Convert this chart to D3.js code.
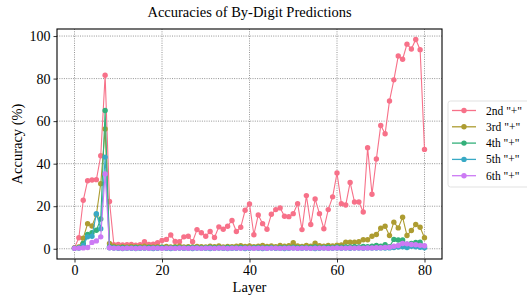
<!DOCTYPE html>
<html>
<head>
<meta charset="utf-8">
<script src="https://cdn.jsdelivr.net/npm/d3@7/dist/d3.min.js"></script>
<style>
  body { margin: 0; background: #fff; }
  svg { font-family: "Liberation Serif", "Times New Roman", serif; }
</style>
</head>
<body>
<svg id="chart" width="527" height="298"></svg>
<script>
const layers = d3.range(0, 81)

const seriesNames = ['2nd "+"', '3rd "+"', '4th "+"', '5th "+"', '6th "+"']
const seriesColors = ['#f77189', '#ad9c31', '#33b07a', '#38a9c5', '#cc7af4']

const second = [0.5, 5.2, 22.8, 32.0, 32.3, 32.5, 43.7, 81.6, 22.2, 1.9,
  2.0, 1.8, 1.9, 2.0, 1.7, 1.9, 3.3, 2.0, 2.2, 2.8,
  3.9, 4.4, 6.5, 3.4, 3.3, 5.6, 5.9, 3.3, 9.0, 7.5,
  5.9, 8.1, 5.3, 10.3, 9.2, 10.6, 13.3, 8.1, 10.1, 18.1,
  21.1, 6.6, 15.9, 11.8, 9.2, 16.2, 18.4, 19.2, 15.3, 15.1,
  16.5, 21.2, 9.0, 25.0, 11.4, 23.4, 16.5, 9.4, 18.4, 24.4,
  35.6, 21.2, 20.6, 31.2, 22.0, 22.0, 17.3, 47.5, 25.6, 42.2,
  58.0, 54.1, 69.5, 79.4, 90.6, 89.1, 96.2, 93.9, 98.4, 93.6,
  46.7]

const third = [0.3, 0.8, 5.0, 11.8, 10.7, 16.0, 30.6, 56.3, 2.5, 1.2,
  0.8, 1.0, 0.9, 1.1, 0.8, 1.0, 1.2, 0.9, 0.8, 1.0,
  0.9, 1.1, 0.8, 1.0, 1.2, 0.9, 1.0, 0.8, 1.1, 1.0,
  0.9, 1.2, 1.0, 1.3, 0.9, 1.1, 1.0, 1.2, 1.4, 1.1,
  1.3, 1.0, 1.2, 1.5, 1.1, 1.3, 1.0, 1.6, 1.2, 1.4,
  2.8, 1.3, 1.1, 1.5, 1.2, 2.6, 1.4, 1.2, 1.6, 1.3,
  1.7, 1.8, 3.1, 3.1, 3.1, 3.3, 4.2, 4.2, 5.9, 6.7,
  9.7, 10.6, 6.2, 12.5, 9.8, 14.8, 6.2, 8.6, 11.4, 10.1,
  5.2]

const fourth = [0.3, 0.5, 2.5, 6.7, 7.5, 8.7, 14.0, 65.0, 1.0, 0.6,
  0.5, 0.6, 0.4, 0.5, 0.6, 0.5, 0.4, 0.6, 0.5, 0.5,
  0.6, 0.4, 0.5, 0.6, 0.5, 0.4, 0.5, 0.6, 0.5, 0.4,
  0.5, 0.6, 0.5, 0.5, 0.4, 0.6, 0.5, 0.5, 0.6, 0.5,
  0.4, 0.5, 0.6, 0.5, 0.5, 0.6, 0.4, 0.5, 0.6, 0.5,
  0.7, 0.5, 0.6, 0.5, 0.6, 0.8, 0.5, 0.6, 0.7, 0.6,
  0.8, 0.7, 0.9, 0.8, 1.0, 0.9, 1.1, 1.0, 1.2, 1.5,
  1.2, 1.9, 1.0, 4.4, 4.1, 4.1, 2.2, 2.5, 3.0, 3.1,
  1.0]

const fifth = [0.2, 0.3, 1.5, 5.6, 5.9, 16.5, 9.4, 43.1, 0.5, 0.3,
  0.2, 0.1, 0.3, 0.2, 0.1, 0.2, 0.3, 0.2, 0.1, 0.2,
  0.3, 0.2, 0.1, 0.2, 0.3, 0.2, 0.2, 0.1, 0.3, 0.2,
  0.2, 0.1, 0.2, 0.3, 0.2, 0.1, 0.2, 0.2, 0.3, 0.1,
  0.2, 0.3, 0.2, 0.1, 0.2, 0.3, 0.2, 0.2, 0.1, 0.2,
  0.3, 0.2, 0.2, 0.3, 0.2, 0.1, 0.2, 0.3, 0.2, 0.2,
  0.3, 0.2, 0.3, 0.2, 0.3, 0.3, 0.2, 0.4, 0.3, 0.3,
  0.4, 0.3, 0.4, 0.6, 0.8, 0.9, 0.6, 1.2, 0.9, 0.7,
  0.5]

const sixth = [0.2, 0.3, 0.4, 0.6, 3.0, 3.7, 5.6, 35.2, 0.5, 0.3,
  0.3, 0.2, 0.3, 0.3, 0.2, 0.3, 0.3, 0.2, 0.3, 0.3,
  0.2, 0.3, 0.3, 0.2, 0.3, 0.3, 0.2, 0.3, 0.3, 0.2,
  0.3, 0.3, 0.2, 0.3, 0.3, 0.2, 0.3, 0.3, 0.2, 0.3,
  0.3, 0.2, 0.3, 0.3, 0.2, 0.3, 0.3, 0.2, 0.3, 0.3,
  0.3, 0.2, 0.3, 0.3, 0.2, 0.3, 0.3, 0.3, 0.2, 0.3,
  0.4, 0.3, 0.3, 0.4, 0.3, 0.4, 0.3, 0.4, 0.4, 0.5,
  0.5, 0.6, 0.7, 1.2, 1.5, 2.5, 2.3, 2.0, 1.9, 1.6,
  1.4]

const seriesValues = [second, third, fourth, fifth, sixth]
const xTicks = [0, 20, 40, 60, 80]
const yTicks = [0, 20, 40, 60, 80, 100]

const svg = d3.select('#chart')
const margin = {left: 57, right: 85, top: 29, bottom: 39}
const width = 527, height = 298
const plotW = width - margin.left - margin.right
const plotH = height - margin.top - margin.bottom

// matplotlib-like 5% margins around the data
const xExt = d3.extent(layers)
const xPad = (xExt[1] - xExt[0]) * 0.05
const allVals = seriesValues.flat()
const yExt = d3.extent(allVals)
const yPad = (yExt[1] - yExt[0]) * 0.05

const x = d3.scaleLinear().domain([xExt[0] - xPad, xExt[1] + xPad]).range([margin.left, margin.left + plotW])
const y = d3.scaleLinear().domain([yExt[0] - yPad, yExt[1] + yPad]).range([margin.top + plotH, margin.top])

// grid
const grid = svg.append('g').attr('class', 'grid')
grid.selectAll('line.gx').data(xTicks).join('line')
  .attr('x1', d => x(d)).attr('x2', d => x(d))
  .attr('y1', margin.top).attr('y2', margin.top + plotH)
grid.selectAll('line.gy').data(yTicks).join('line')
  .attr('x1', margin.left).attr('x2', margin.left + plotW)
  .attr('y1', d => y(d)).attr('y2', d => y(d))
grid.selectAll('line')
  .attr('stroke', '#7a7a7a').attr('stroke-width', 0.8).attr('stroke-dasharray', '1,1.3')

// series
const line = d3.line().x((d, i) => x(layers[i])).y(d => y(d))
const seriesG = svg.append('g').attr('class', 'series')
seriesValues.forEach((vals, k) => {
  const g = seriesG.append('g')
  g.append('path').datum(vals)
    .attr('d', line)
    .attr('fill', 'none')
    .attr('stroke', seriesColors[k])
    .attr('stroke-width', 1.1)
  g.selectAll('circle').data(vals).join('circle')
    .attr('cx', (d, i) => x(layers[i]))
    .attr('cy', d => y(d))
    .attr('r', 2.7)
    .attr('fill', seriesColors[k])
})

// frame
svg.append('rect')
  .attr('x', margin.left).attr('y', margin.top)
  .attr('width', plotW).attr('height', plotH)
  .attr('fill', 'none').attr('stroke', '#000').attr('stroke-width', 1.1)

// axes
const xAxis = svg.append('g')
  .attr('transform', `translate(0,${margin.top + plotH})`)
  .call(d3.axisBottom(x).tickValues(xTicks).tickSize(3.5).tickPadding(3))
const yAxis = svg.append('g')
  .attr('transform', `translate(${margin.left},0)`)
  .call(d3.axisLeft(y).tickValues(yTicks).tickSize(3.5).tickPadding(3))
;[xAxis, yAxis].forEach(a => {
  a.attr('font-family', null).attr('font-size', null)
  a.select('.domain').remove()
  a.selectAll('.tick line').attr('stroke', '#000').attr('stroke-width', 0.8)
  a.selectAll('.tick text')
    .attr('fill', '#000')
    .style('font-family', '"Liberation Serif", serif')
    .style('font-size', '14px')
})

// labels
svg.append('text')
  .attr('x', margin.left + plotW / 2).attr('y', 17)
  .attr('text-anchor', 'middle')
  .style('font-size', '14.5px')
  .text('Accuracies of By-Digit Predictions')
svg.append('text')
  .attr('x', margin.left + plotW / 2).attr('y', 292)
  .attr('text-anchor', 'middle')
  .style('font-size', '14.5px')
  .text('Layer')
svg.append('text')
  .attr('transform', `translate(22,${margin.top + plotH / 2}) rotate(-90)`)
  .attr('text-anchor', 'middle')
  .style('font-size', '14.5px')
  .text('Accuracy (%)')

// legend
const legend = svg.append('g').attr('transform', 'translate(448,101)')
legend.append('rect')
  .attr('width', 82).attr('height', 86).attr('rx', 2.5)
  .attr('fill', '#fff').attr('stroke', '#d9d9d9').attr('stroke-width', 0.8)
const items = legend.selectAll('g.item').data(seriesNames).join('g')
  .attr('class', 'item')
  .attr('transform', (d, i) => `translate(0,${9.5 + i * 16.3})`)
items.append('line')
  .attr('x1', 4).attr('x2', 28)
  .attr('stroke', (d, i) => seriesColors[i]).attr('stroke-width', 1.3)
items.append('circle')
  .attr('cx', 16).attr('r', 2.7)
  .attr('fill', (d, i) => seriesColors[i])
items.append('text')
  .attr('x', 38).attr('y', 4)
  .style('font-size', '11.5px')
  .text(d => d)
</script>
</body>
</html>
